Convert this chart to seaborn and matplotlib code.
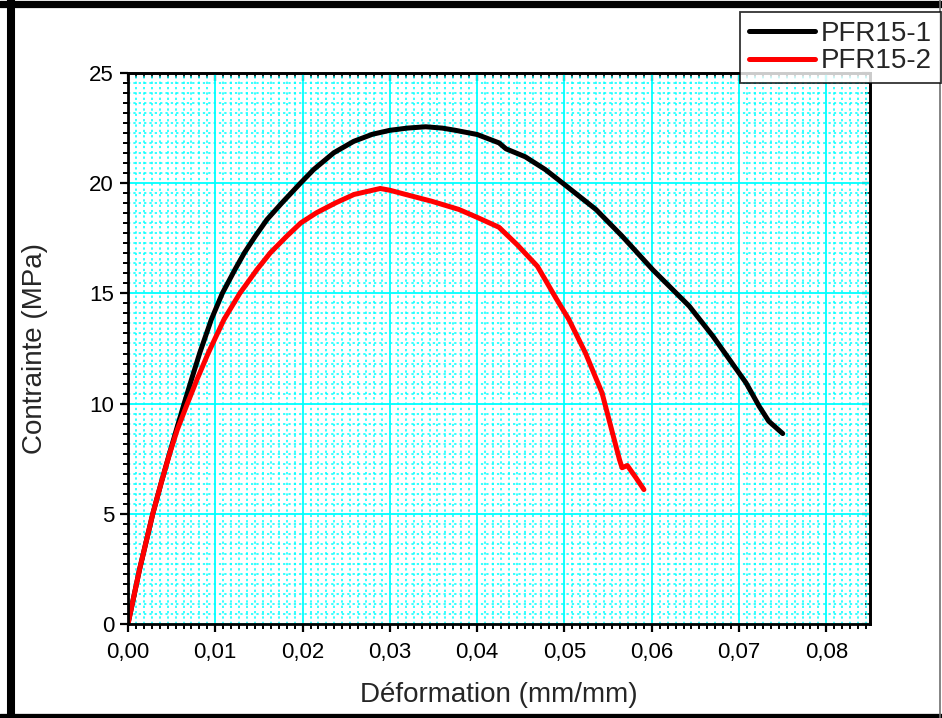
import matplotlib
matplotlib.use("Agg")
import matplotlib.pyplot as plt
import seaborn as sns
import pandas as pd
from matplotlib.ticker import AutoMinorLocator, FuncFormatter
from matplotlib.lines import Line2D

# ---- data ----
strain_1 = [0.0, 0.00132, 0.00284, 0.0038, 0.00478, 0.00555, 0.00643, 0.00727, 0.00822,
            0.00955, 0.0108, 0.01225, 0.01333, 0.01459, 0.01592, 0.01764, 0.01975,
            0.02127, 0.02357, 0.02586, 0.0280, 0.0300, 0.0320, 0.0341, 0.0360, 0.0375,
            0.0400, 0.0425, 0.0433, 0.0455, 0.0478, 0.0500, 0.0536, 0.0566, 0.0601,
            0.0643, 0.0670, 0.0689, 0.0708, 0.0723, 0.0734, 0.0750]
stress_1 = [0.0, 2.47, 5.0, 6.4, 7.77, 8.82, 10.0, 11.09, 12.3,
            13.82, 15.0, 16.08, 16.84, 17.6, 18.35, 19.11, 20.0,
            20.62, 21.38, 21.9, 22.22, 22.40, 22.50, 22.56, 22.50, 22.40,
            22.21, 21.83, 21.56, 21.2, 20.62, 19.94, 18.81, 17.6, 16.08,
            14.42, 13.06, 12.0, 10.94, 9.88, 9.2, 8.64]

strain_2 = [0.0, 0.00132, 0.00284, 0.0038, 0.0048, 0.00565, 0.0068, 0.0079, 0.0092,
            0.0110, 0.0128, 0.01477, 0.0163, 0.0182, 0.0198, 0.0216, 0.0238,
            0.0259, 0.0289, 0.0300, 0.0318, 0.0348, 0.0379, 0.0400, 0.0425,
            0.0446, 0.0469, 0.0490, 0.0505, 0.0524, 0.0543, 0.0553, 0.0563, 0.0566,
            0.0572, 0.0582, 0.0591]
stress_2 = [0.0, 2.47, 5.0, 6.4, 7.77, 8.82, 10.0, 11.09, 12.3,
            13.82, 15.0, 16.08, 16.84, 17.6, 18.2, 18.66, 19.11,
            19.49, 19.76, 19.68, 19.49, 19.18, 18.81, 18.45, 18.0,
            17.2, 16.23, 14.8, 13.82, 12.3, 10.49, 8.97, 7.46, 7.09,
            7.19, 6.63, 6.10]

series_names = ["PFR15-1", "PFR15-2"]
series_colors = ["#000000", "#FF0000"]
x_ticks = [0.00, 0.01, 0.02, 0.03, 0.04, 0.05, 0.06, 0.07, 0.08]
y_ticks = [0, 5, 10, 15, 20, 25]

df = pd.concat([
    pd.DataFrame({"x": strain_1, "y": stress_1, "s": series_names[0]}),
    pd.DataFrame({"x": strain_2, "y": stress_2, "s": series_names[1]}),
])

sns.set_style("white")
plt.rcParams["font.family"] = ["Liberation Sans", "DejaVu Sans"]

W, H = 942, 718
fig = plt.figure(figsize=(W / 100, H / 100), dpi=100)
ax = fig.add_axes([128 / W, 1 - 624 / H, (870 - 128) / W, (624 - 73) / H])

GRID = "#00FFFF"
ax.set_xlim(0, 0.085)
ax.set_ylim(0, 25)
ax.set_xticks(x_ticks)
ax.set_yticks(y_ticks)
ax.xaxis.set_minor_locator(AutoMinorLocator(11))
ax.yaxis.set_minor_locator(AutoMinorLocator(11))
ax.grid(True, which="major", color=GRID, lw=1.3, ls="-", zorder=0)
ax.grid(True, which="minor", color=GRID, lw=1.1, ls=(0, (1.5, 2.0)), zorder=0)
ax.set_axisbelow(True)

sns.lineplot(data=df, x="x", y="y", hue="s",
             palette=dict(zip(series_names, series_colors)), sort=False,
             estimator=None, lw=3.6, ax=ax, legend=False)
for ln in ax.lines:
    ln.set_solid_joinstyle("round")
    ln.set_solid_capstyle("round")

ax.xaxis.set_major_formatter(FuncFormatter(lambda v, p: f"{v:.2f}".replace(".", ",")))
ax.yaxis.set_major_formatter(FuncFormatter(lambda v, p: f"{v:.0f}"))

for sp in ax.spines.values():
    sp.set_linewidth(2.0)
    sp.set_color("black")

ax.tick_params(which="major", direction="out", length=6, width=1.6, labelsize=16,
               pad=4, colors="black", bottom=True, left=True)
ax.tick_params(axis="x", which="major", pad=7)
ax.tick_params(which="minor", direction="out", length=3.8, width=1.4,
               bottom=True, left=True, colors="black")

# mirrored ticks pointing inward on top and right
secx = ax.secondary_xaxis("top")
secx.set_xticks(x_ticks)
secx.xaxis.set_minor_locator(AutoMinorLocator(11))
secx.tick_params(which="major", direction="in", length=6, width=1.6, labeltop=False)
secx.tick_params(which="minor", direction="in", length=3.8, width=1.4)
secx.spines["top"].set_linewidth(2.0)
secy = ax.secondary_yaxis("right")
secy.set_yticks(y_ticks)
secy.yaxis.set_minor_locator(AutoMinorLocator(11))
secy.tick_params(which="major", direction="in", length=6, width=1.6, labelright=False)
secy.tick_params(which="minor", direction="in", length=3.8, width=1.4)
secy.spines["right"].set_linewidth(2.0)

ax.set_xlabel("Déformation (mm/mm)", fontsize=20, labelpad=14)
ax.set_ylabel("Contrainte (MPa)", fontsize=20, labelpad=30)

handles = [Line2D([0], [0], color=c, lw=3.6) for c in series_colors]
leg = fig.legend(handles, series_names, loc="upper right",
                 bbox_to_anchor=(941 / W, 1 - 12 / H), fontsize=20,
                 frameon=True, fancybox=False, edgecolor="black",
                 handlelength=2.4, handletextpad=0.2, borderpad=0.32,
                 labelspacing=0.05, borderaxespad=0)
leg.get_frame().set_linewidth(1.3)
leg.set_zorder(10)

# outer frame of the picture
fig.add_artist(Line2D([11 / W, 11 / W], [0, 1], color="black", lw=5.8, transform=fig.transFigure))
fig.add_artist(Line2D([0, 1], [1 - 3.5 / H, 1 - 3.5 / H], color="black", lw=5.2, transform=fig.transFigure))
fig.add_artist(Line2D([0, 1], [2.5 / H, 2.5 / H], color="black", lw=3.8, transform=fig.transFigure))
fig.add_artist(Line2D([940 / W, 940 / W], [0, 1], color="#707070", lw=1.2, transform=fig.transFigure))

fig.savefig("out.png", dpi=100)
